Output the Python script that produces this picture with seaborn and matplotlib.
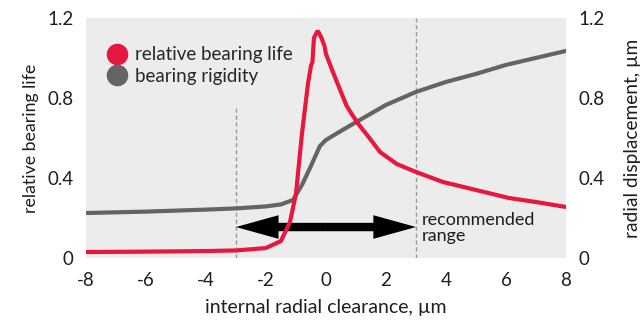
import matplotlib
matplotlib.use("Agg")
import matplotlib.pyplot as plt
import seaborn as sns
import pandas as pd
from matplotlib.lines import Line2D

sns.set_theme(style="white")
plt.rcParams['font.family'] = ['Lato', 'DejaVu Sans']

# Data
life_x = [-8, -6, -4, -3, -2, -1.5, -1.2, -1.0, -0.8, -0.6, -0.5, -0.45, -0.4, -0.3, -0.25, -0.15, -0.05, 0.0, 0.23, 0.5, 0.69, 0.9, 1.13, 1.5, 1.8, 2.36, 3.0, 3.9, 5.0, 6.1, 7.0, 8.0]
life_y = [0.03, 0.032, 0.035, 0.038, 0.05, 0.085, 0.18, 0.32, 0.62, 0.87, 0.96, 0.98, 1.10, 1.13, 1.13, 1.10, 1.06, 1.02, 0.93, 0.83, 0.76, 0.71, 0.66, 0.59, 0.53, 0.47, 0.43, 0.38, 0.34, 0.30, 0.28, 0.255]

rig_x = [-8, -6, -4, -3, -2, -1.5, -1.1, -0.8, -0.5, -0.2, 0.0, 0.5, 1.13, 2.0, 3.0, 4.0, 5.0, 6.0, 7.0, 8.0]
rig_y = [0.225, 0.232, 0.242, 0.248, 0.258, 0.268, 0.29, 0.365, 0.46, 0.56, 0.59, 0.635, 0.69, 0.765, 0.83, 0.88, 0.92, 0.965, 1.0, 1.035]

x_ticks = [-8, -6, -4, -2, 0, 2, 4, 6, 8]
y_ticks = [0, 0.4, 0.8, 1.2]
y_tick_labels = ["0", "0.4", "0.8", "1.2"]
range_lo, range_hi = -3, 3
arrow_y = 0.155
left_dash_top = 0.765

RED = "#e8173f"
GREY = "#646466"
BG = "#ececec"
TXT = "#1e1e1e"

life_df = pd.DataFrame({"x": life_x, "y": life_y})
rig_df = pd.DataFrame({"x": rig_x, "y": rig_y})

fig = plt.figure(figsize=(6.41, 3.25), dpi=100)
ax = fig.add_axes([0.134, 0.206, 0.749, 0.739])
ax.set_facecolor(BG)
for s in ax.spines.values():
    s.set_visible(False)

ax2 = ax.twinx()
ax2.set_position(ax.get_position())
for s in ax2.spines.values():
    s.set_visible(False)
sns.lineplot(data=rig_df, x="x", y="y", ax=ax2, color=GREY, lw=3, zorder=3)
# red series drawn on the top axes so it overlays the arrow and the grey line
sns.lineplot(data=life_df, x="x", y="y", ax=ax2, color=RED, lw=3, zorder=8)

ax.set_xlim(-8, 8)
ax2.set_xlim(-8, 8)
ax.set_ylim(0, 1.2)
ax2.set_ylim(0, 1.2)
ax.set_xticks(x_ticks)
ax.set_xticklabels([str(t) for t in x_ticks])
ax.set_yticks(y_ticks)
ax.set_yticklabels(y_tick_labels)
ax2.set_yticks(y_ticks)
ax2.set_yticklabels(y_tick_labels)
ax2.set_xlabel("")
for a in (ax, ax2):
    a.tick_params(axis="both", length=0, labelsize=13.5, colors=TXT)
ax.tick_params(axis="x", pad=10)
ax.tick_params(axis="y", pad=9)
ax2.tick_params(axis="y", pad=9)

ax.set_xlabel("internal radial clearance, µm", fontsize=14, color=TXT, labelpad=7)
ax.set_ylabel("relative bearing life", fontsize=12.8, color=TXT, labelpad=6)
ax2.set_ylabel("radial displacement, µm", fontsize=13.8, color=TXT, labelpad=14)

# dashed verticals
ax2.plot([range_lo, range_lo], [0, left_dash_top], ls=(0, (3, 2)), color="#999999", lw=1, zorder=2)
ax2.plot([range_hi, range_hi], [0, 1.2], ls=(0, (3, 2)), color="#999999", lw=1, zorder=2)

# double arrow (two halves from the centre)
mid = (range_lo + range_hi) / 2
for end in (range_lo, range_hi):
    ax2.arrow(mid, arrow_y, end - mid, 0, width=0.042, head_width=0.118, head_length=1.42,
              length_includes_head=True, color="black", lw=0, zorder=6)
ax2.text(range_hi + 0.2, 0.148, "recommended\nrange", fontsize=13, color=TXT, va="center", ha="left",
         linespacing=1.0, zorder=7)

handles = [Line2D([], [], marker="o", ls="", color=RED, markersize=14.5),
           Line2D([], [], marker="o", ls="", color=GREY, markersize=14.5)]
ax2.legend(handles, ["relative bearing life", "bearing rigidity"], loc="upper left",
           bbox_to_anchor=(0.0, 0.96), frameon=False, fontsize=13.5, handletextpad=0.3,
           labelspacing=0.25, borderaxespad=0.6, handlelength=1.3)

fig.savefig("out.png", dpi=100)
